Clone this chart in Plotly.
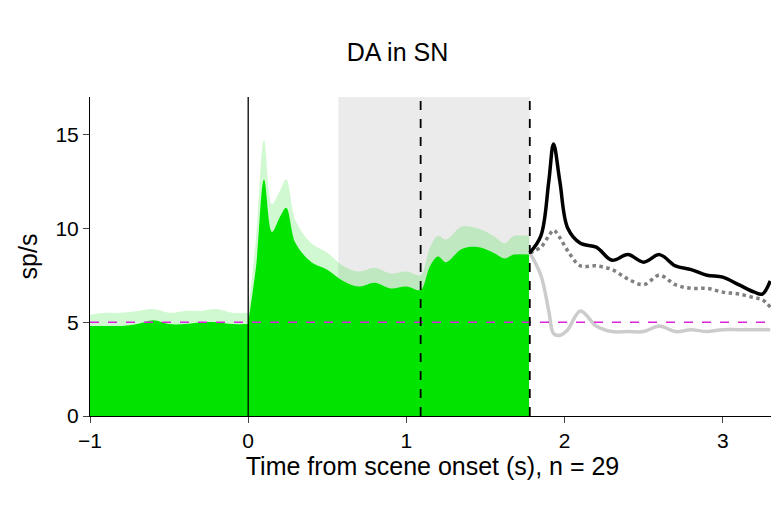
import plotly.graph_objects as go

# green population response (mean and upper band)
pre_t = [-1.0, -0.9, -0.8, -0.7, -0.6, -0.5, -0.4, -0.3, -0.2, -0.1, 0.0]
pre_mean = [4.8, 4.8, 4.8, 4.9, 5.1, 4.9, 4.9, 5.0, 5.0, 4.9, 4.9]
pre_upper = [5.4, 5.5, 5.5, 5.6, 5.7, 5.5, 5.6, 5.6, 5.7, 5.5, 5.5]

post_t = [0.0, 0.05, 0.1, 0.15, 0.2, 0.24, 0.3, 0.4, 0.5, 0.6, 0.7, 0.8, 0.9,
          1.0, 1.08, 1.1, 1.15, 1.2, 1.25, 1.35, 1.45, 1.55, 1.62, 1.68, 1.775]
post_mean = [5.0, 8.0, 12.6, 9.8, 10.6, 11.1, 9.2, 8.2, 7.8, 7.2, 6.9, 7.1, 6.8,
             6.9, 6.7, 6.8, 8.0, 8.5, 8.2, 8.9, 9.0, 8.7, 8.4, 8.6, 8.6]
post_upper = [5.6, 9.5, 14.7, 11.3, 12.0, 12.6, 10.4, 9.2, 8.7, 8.0, 7.7, 7.9, 7.6,
              7.7, 7.5, 7.6, 9.0, 9.6, 9.4, 10.1, 10.0, 9.6, 9.2, 9.6, 9.6]

# outcome lines after the scene
out_t = [1.78, 1.85, 1.9, 1.93, 1.97, 2.02, 2.1, 2.2, 2.3, 2.4, 2.5, 2.6, 2.7,
         2.8, 2.9, 3.0, 3.1, 3.2, 3.25, 3.3]
black = [8.7, 9.6, 12.5, 14.5, 12.5, 10.0, 9.2, 9.0, 8.3, 8.6, 8.2, 8.6, 8.0,
         7.8, 7.5, 7.4, 7.0, 6.6, 6.5, 7.2]
dotted = [8.7, 9.0, 9.6, 9.9, 9.5, 8.8, 8.0, 8.0, 7.8, 7.3, 7.0, 7.5, 7.0,
          6.8, 6.8, 6.6, 6.5, 6.3, 6.2, 5.8]
light = [8.7, 7.5, 5.6, 4.4, 4.3, 4.6, 5.6, 4.8, 4.5, 4.5, 4.5, 4.8, 4.5,
         4.6, 4.5, 4.6, 4.6, 4.6, 4.6, 4.6]

fig = go.Figure()
for t, m, u in [(pre_t, pre_mean, pre_upper), (post_t, post_mean, post_upper)]:
    fig.add_trace(go.Scatter(x=t, y=u, mode='lines', line=dict(width=0, shape='spline'),
                             fill='tozeroy', fillcolor='rgba(0,220,0,0.18)', hoverinfo='skip'))
    fig.add_trace(go.Scatter(x=t, y=m, mode='lines', line=dict(width=0, shape='spline'),
                             fill='tozeroy', fillcolor='#00e400', hoverinfo='skip'))

fig.add_trace(go.Scatter(x=out_t, y=light, mode='lines', line=dict(color='#cccccc', width=3.5, shape='spline')))
fig.add_trace(go.Scatter(x=out_t, y=dotted, mode='lines', line=dict(color='#808080', width=3.5, dash='dot', shape='spline')))
fig.add_trace(go.Scatter(x=out_t, y=black, mode='lines', line=dict(color='black', width=3.5, shape='spline')))

fig.add_vrect(x0=0.57, x1=1.78, fillcolor='#ebebeb', opacity=1, line_width=0, layer='below')
fig.add_hline(y=5, line=dict(color='#dd22dd', width=1.5, dash='dash'))
fig.add_vline(x=0, line=dict(color='black', width=1.3))
for xv in [1.09, 1.78]:
    fig.add_vline(x=xv, line=dict(color='black', width=1.8, dash='dash'))

fig.update_layout(
    width=779, height=506, showlegend=False,
    paper_bgcolor='white', plot_bgcolor='white',
    font=dict(family='Liberation Sans, Arial', size=21, color='black'),
    title=dict(text='DA in SN', x=0.5, y=0.93, xanchor='center', font=dict(size=25)),
    margin=dict(l=82, r=12, t=89, b=98),
    xaxis=dict(range=[-1, 3.33], tickvals=[-1, 0, 1, 2, 3], showgrid=False, zeroline=False,
               showline=True, linecolor='black', ticks='outside', ticklen=6,
               title=dict(text='Time from scene onset (s), n = 29', standoff=5)),
    yaxis=dict(range=[0, 17], tickvals=[0, 5, 10, 15], showgrid=False, zeroline=False,
               showline=True, linecolor='black', ticks='outside', ticklen=6,
               title=dict(text='sp/s', standoff=10)),
)
fig.write_html("out.html")
